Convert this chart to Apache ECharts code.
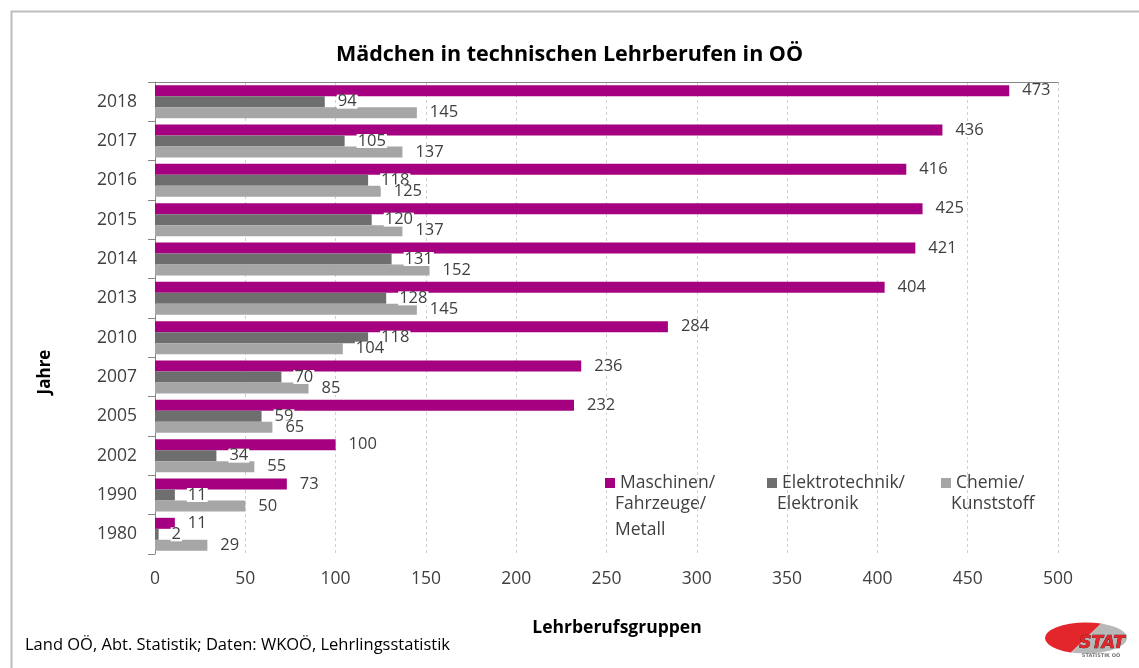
<!DOCTYPE html>
<html>
<head>
<meta charset="utf-8">
<script src="https://cdn.jsdelivr.net/npm/echarts@6/dist/echarts.min.js"></script>
<style>
html,body{margin:0;padding:0;background:#fff;}
#chart{width:1139px;height:668px;}
</style>
</head>
<body>
<div id="chart"></div>
<script>
const years = ['2018','2017','2016','2015','2014','2013','2010','2007','2005','2002','1990','1980'];
const maschinen = [473,436,416,425,421,404,284,236,232,100,73,11];
const elektro = [94,105,118,120,131,128,118,70,59,34,11,2];
const chemie = [145,137,125,137,152,145,104,85,65,55,50,29];
const xTicks = [0,50,100,150,200,250,300,350,400,450,500];
const seriesNames = ['Maschinen/', 'Elektrotechnik/', 'Chemie/'];
const legendExtra = [['Fahrzeuge/','Metall'],['Elektronik'],['Kunststoff']];

const FONT = '"Open Sans", "Noto Sans", sans-serif';
const colors = ['#A5007F','#6E6E6E','#A6A6A6'];

const chart = echarts.init(document.getElementById('chart'));

const labelOpt = {
  show: true, position: 'right', distance: 12,
  color: '#404040', fontFamily: FONT, fontSize: 16.5, lineHeight: 14,
  backgroundColor: '#fff', padding: [0, 1, 0, 1]
};

function mkSeries(name, data, color) {
  return {
    name: name, type: 'bar', data: data,
    xAxisIndex: 0, yAxisIndex: 0,
    barGap: '0%', barCategoryGap: '16%',
    itemStyle: { color: color },
    label: labelOpt,
    emphasis: { disabled: true },
    animation: false
  };
}

const legendX = [600, 762, 936];
const legends = seriesNames.map((n, i) => ({
  data: [n], left: legendX[i], top: 469, orient: 'horizontal',
  itemWidth: 10, itemHeight: 10, itemGap: 0,
  icon: 'rect',
  textStyle: { fontFamily: FONT, fontSize: 17.5, lineHeight: 18, color: '#404040', padding: [0,0,0,0] },
  selectedMode: false
}));

const extraGraphics = [];
legendExtra.forEach((lines, i) => {
  lines.forEach((t, j) => {
    extraGraphics.push({
      type: 'text', x: legendX[i] + 15, y: 478 + 26 * (j + 1),
      style: { text: t, font: '17.5px ' + FONT, fill: '#404040', align: 'left', verticalAlign: 'middle' }
    });
  });
});

chart.setOption({
  animation: false,
  title: {
    text: 'Mädchen in technischen Lehrberufen in OÖ',
    left: 'center', top: 39,
    textStyle: { fontFamily: FONT, fontSize: 21.5, fontWeight: 'bold', color: '#000' }
  },
  legend: legends,
  grid: { left: 155, right: 81, top: 82, bottom: 114, containLabel: false },
  xAxis: [
    {
      type: 'value', position: 'top', min: 0, max: 500, interval: 50,
      axisLine: { show: true, lineStyle: { color: '#868686', width: 1 } },
      axisTick: { show: false },
      axisLabel: { show: false },
      splitLine: { show: true, lineStyle: { color: '#D0D0D0', type: [3, 3], width: 1 } }
    },
    {
      type: 'value', position: 'bottom', min: 0, max: 500, interval: 50,
      axisLine: { show: false }, axisTick: { show: false },
      splitLine: { show: false },
      axisLabel: {
        show: true, margin: 16, color: '#404040', fontFamily: FONT, fontSize: 17.5,
        formatter: v => xTicks.indexOf(v) >= 0 ? String(v) : ''
      }
    }
  ],
  yAxis: {
    type: 'category', data: years, inverse: true,
    axisLine: { show: true, lineStyle: { color: '#868686', width: 1 } },
    axisTick: { show: true, length: 7, lineStyle: { color: '#868686' } },
    axisLabel: { margin: 18, color: '#404040', fontFamily: FONT, fontSize: 17.5 },
    splitLine: { show: false }
  },
  series: [
    mkSeries(seriesNames[0], maschinen, colors[0]),
    mkSeries(seriesNames[1], elektro, colors[1]),
    mkSeries(seriesNames[2], chemie, colors[2])
  ],
  graphic: [
    { type: 'rect', left: 9, top: 9, shape: { x: 0, y: 0, width: 1140, height: 670 },
      style: { fill: 'none', stroke: '#BDBDBD', lineWidth: 2 }, silent: true, z: -10 },
    { type: 'text', x: 45, y: 372, rotation: Math.PI / 2,
      style: { text: 'Jahre', font: 'bold 17px ' + FONT, fill: '#000', align: 'center', verticalAlign: 'middle' } },
    { type: 'text', x: 617, y: 628,
      style: { text: 'Lehrberufsgruppen', font: 'bold 17.5px ' + FONT, fill: '#000', align: 'center', verticalAlign: 'middle' } },
    { type: 'text', x: 25, y: 645,
      style: { text: 'Land OÖ, Abt. Statistik; Daten: WKOÖ, Lehrlingsstatistik', font: '16.5px ' + FONT, fill: '#000', align: 'left', verticalAlign: 'middle' } },
    { type: 'group', x: 1086, y: 638, children: [
      { type: 'sector', scaleY: 0.38, shape: { cx: 0, cy: 0, r: 41, startAngle: Math.PI * 0.62, endAngle: Math.PI * 1.62 },
        style: { fill: '#E3262B' } },
      { type: 'sector', scaleY: 0.38, shape: { cx: 0, cy: 0, r: 41, startAngle: Math.PI * 1.62, endAngle: Math.PI * 2.62 },
        style: { fill: '#B8B8B8' } },
      { type: 'text', x: 16, y: 6,
        style: { text: 'STAT', font: 'italic bold 17px "DejaVu Sans", sans-serif', fill: '#E3262B', stroke: '#4a1414', lineWidth: 0.7, align: 'center', verticalAlign: 'middle' } },
      { type: 'text', x: 15, y: 18,
        style: { text: 'STATISTIK OÖ', font: 'bold 5px "DejaVu Sans", sans-serif', fill: '#777', align: 'center', verticalAlign: 'middle' } }
    ]}
  ].concat(extraGraphics)
});
</script>
</body>
</html>
